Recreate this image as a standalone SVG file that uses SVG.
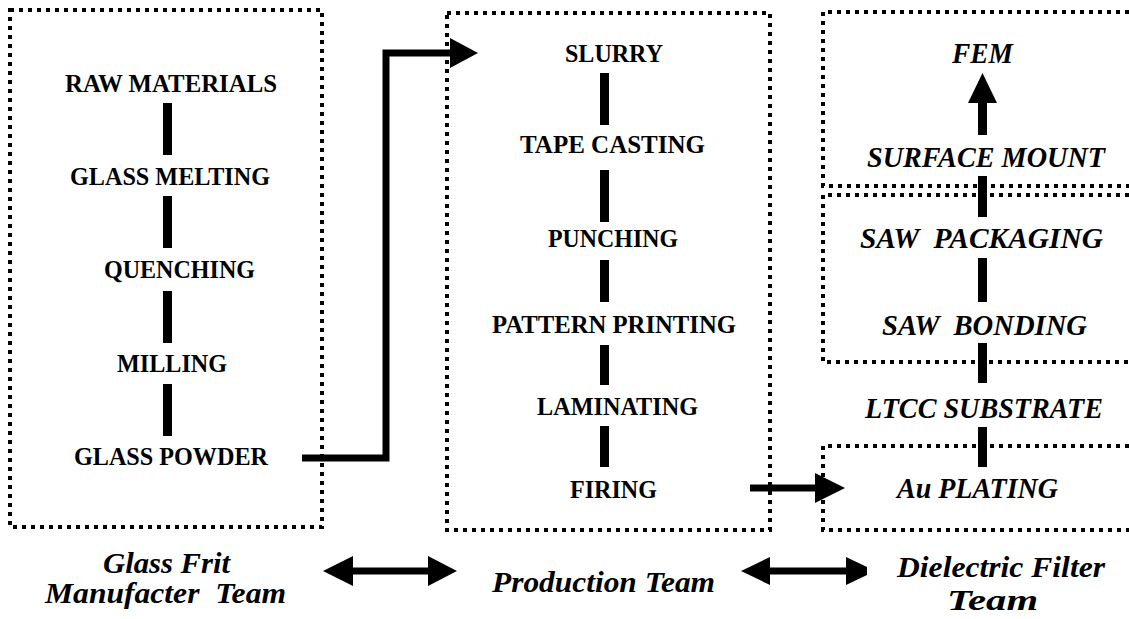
<svg xmlns="http://www.w3.org/2000/svg" width="1129" height="619" viewBox="0 0 1129 619">
  <style>
    .frame { fill: none; stroke: #000; stroke-width: 4; stroke-dasharray: 4 5; }
    .step { font-family: "Liberation Serif", "Times New Roman", serif; font-weight: bold; font-size: 26px; fill: #000; }
    .stepi { font-family: "Liberation Serif", "Times New Roman", serif; font-weight: bold; font-style: italic; font-size: 29px; fill: #000; }
    .team { font-family: "Liberation Serif", "Times New Roman", serif; font-weight: bold; font-style: italic; font-size: 30px; fill: #000; }
    .bar { fill: #000; }
    .wire { fill: none; stroke: #000; stroke-width: 7; stroke-linejoin: miter; }
    .head { fill: #000; }
  </style>
  <rect width="1129" height="619" fill="#fff"/>

  <!-- team frames -->
  <g id="frame-glass-frit">
    <rect class="frame" x="10" y="10" width="312" height="517"/>
  </g>
  <g id="frame-production">
    <rect class="frame" x="447" y="13" width="323" height="517"/>
  </g>
  <g id="frame-module">
    <path class="frame" d="M1129 12 H823 V186 H1129"/>
  </g>
  <g id="frame-saw">
    <path class="frame" d="M1129 195 H823 V362 H1129"/>
  </g>
  <g id="frame-plating">
    <path class="frame" d="M1129 446 H823 V530 H1129"/>
  </g>

  <!-- glass frit process -->
  <g id="raw-materials"><text class="step" x="65" y="91.5" textLength="212" lengthAdjust="spacingAndGlyphs">RAW MATERIALS</text></g>
  <g id="glass-melting"><text class="step" x="70" y="185" textLength="200" lengthAdjust="spacingAndGlyphs">GLASS MELTING</text></g>
  <g id="quenching"><text class="step" x="104" y="278" textLength="151" lengthAdjust="spacingAndGlyphs">QUENCHING</text></g>
  <g id="milling"><text class="step" x="117" y="372" textLength="110" lengthAdjust="spacingAndGlyphs">MILLING</text></g>
  <g id="glass-powder"><text class="step" x="74" y="465" textLength="194" lengthAdjust="spacingAndGlyphs">GLASS POWDER</text></g>

  <!-- production process -->
  <g id="slurry"><text class="step" x="565" y="62" textLength="98" lengthAdjust="spacingAndGlyphs">SLURRY</text></g>
  <g id="tape-casting"><text class="step" x="520" y="153" textLength="185" lengthAdjust="spacingAndGlyphs">TAPE CASTING</text></g>
  <g id="punching"><text class="step" x="548" y="247" textLength="130" lengthAdjust="spacingAndGlyphs">PUNCHING</text></g>
  <g id="pattern-printing"><text class="step" x="492" y="333" textLength="244" lengthAdjust="spacingAndGlyphs">PATTERN PRINTING</text></g>
  <g id="laminating"><text class="step" x="537" y="415" textLength="161" lengthAdjust="spacingAndGlyphs">LAMINATING</text></g>
  <g id="firing"><text class="step" x="570" y="498" textLength="87" lengthAdjust="spacingAndGlyphs">FIRING</text></g>

  <!-- filter / module process -->
  <g id="fem"><text class="stepi" x="952" y="63" textLength="61" lengthAdjust="spacingAndGlyphs">FEM</text></g>
  <g id="surface-mount"><text class="stepi" x="867" y="167" textLength="238" lengthAdjust="spacingAndGlyphs">SURFACE MOUNT</text></g>
  <g id="saw-packaging"><text class="stepi" x="860" y="248" textLength="243" lengthAdjust="spacingAndGlyphs" xml:space="preserve">SAW  PACKAGING</text></g>
  <g id="saw-bonding"><text class="stepi" x="882" y="335" textLength="205" lengthAdjust="spacingAndGlyphs" xml:space="preserve">SAW  BONDING</text></g>
  <g id="ltcc-substrate"><text class="stepi" x="865" y="418" textLength="238" lengthAdjust="spacingAndGlyphs">LTCC SUBSTRATE</text></g>
  <g id="au-plating"><text class="stepi" x="897" y="498" textLength="161" lengthAdjust="spacingAndGlyphs">Au PLATING</text></g>

  <!-- team captions -->
  <g id="team-glass-frit">
    <text class="team" x="103" y="573" textLength="127" lengthAdjust="spacingAndGlyphs">Glass Frit</text>
    <text class="team" x="45" y="603" textLength="241" lengthAdjust="spacingAndGlyphs" xml:space="preserve">Manufacter  Team</text>
  </g>
  <g id="team-production">
    <text class="team" x="492" y="592" textLength="223" lengthAdjust="spacingAndGlyphs">Production Team</text>
  </g>
  <g id="team-dielectric">
    <text class="team" x="897" y="577" textLength="208" lengthAdjust="spacingAndGlyphs">Dielectric Filter</text>
    <text class="team" x="947" y="610" textLength="91" lengthAdjust="spacingAndGlyphs">Team</text>
  </g>

  <!-- connectors -->
  <g id="connectors">
    <!-- glass frit chain -->
    <rect class="bar" x="163" y="103" width="9" height="52"/>
    <rect class="bar" x="163" y="196" width="9" height="52"/>
    <rect class="bar" x="163" y="291" width="9" height="52"/>
    <rect class="bar" x="163" y="384" width="9" height="52"/>

    <!-- production chain -->
    <rect class="bar" x="600" y="73" width="9" height="52"/>
    <rect class="bar" x="600" y="170" width="9" height="52"/>
    <rect class="bar" x="600" y="260" width="9" height="42"/>
    <rect class="bar" x="600" y="345" width="9" height="40"/>
    <rect class="bar" x="600" y="426" width="9" height="41"/>

    <!-- module chain, bottom to top -->
    <rect class="bar" x="978" y="427" width="9" height="40"/>
    <rect class="bar" x="978" y="343" width="9" height="40"/>
    <rect class="bar" x="978" y="258" width="9" height="44"/>
    <rect class="bar" x="978" y="176" width="9" height="41"/>
    <rect class="bar" x="978" y="101" width="9" height="34"/>
    <polygon class="head" points="968,103 997,103 982.5,73"/>

    <!-- glass powder to slurry -->
    <path class="wire" d="M302 458 H386 V53 H452"/>
    <polygon class="head" points="450,38 478,53 450,68"/>

    <!-- firing to Au plating -->
    <path class="wire" d="M750 488 H817" stroke-width="8"/>
    <polygon class="head" points="815,473 845,488 815,503"/>

    <!-- team links -->
    <path class="wire" d="M350 571 H431" stroke-width="8"/>
    <polygon class="head" points="353,556 323,571 353,586"/>
    <polygon class="head" points="428,556 457,571 428,586"/>

    <path class="wire" d="M768 571 H848" stroke-width="8"/>
    <polygon class="head" points="770,557 741,571 770,585"/>
    <polygon class="head" points="846,557 867,567 867,575 846,585"/>
  </g>
</svg>
